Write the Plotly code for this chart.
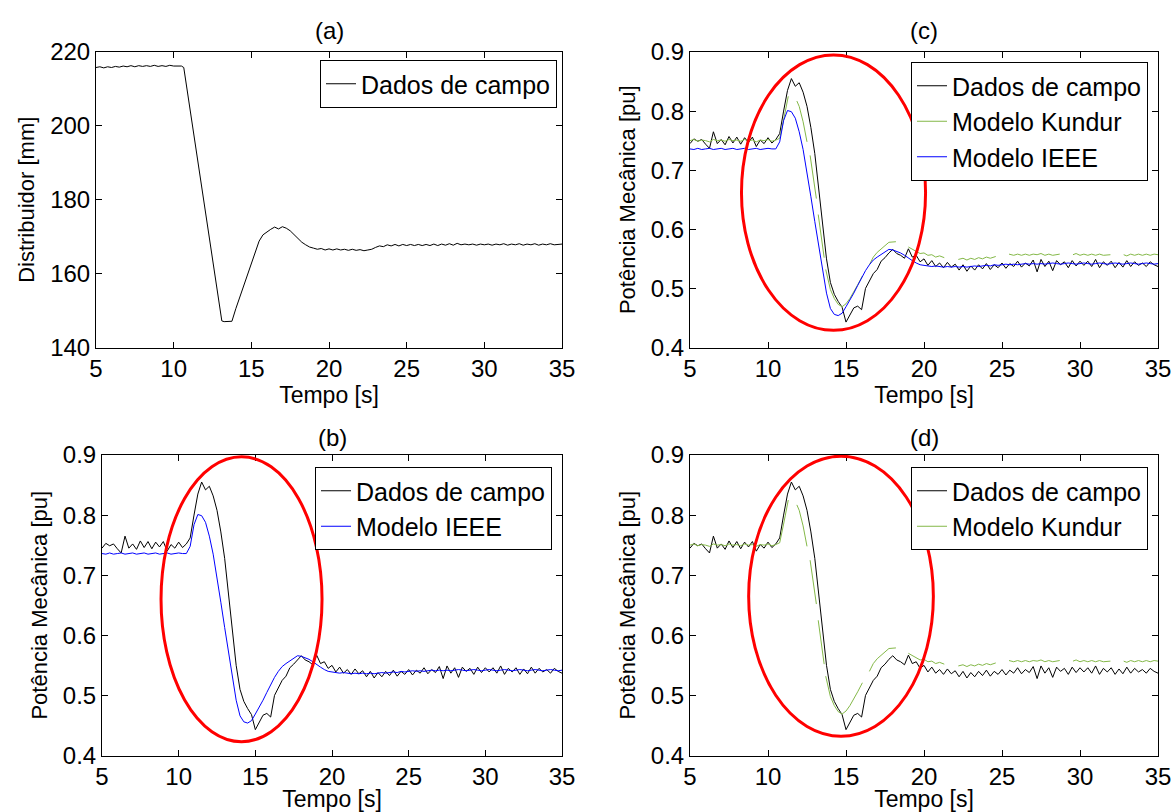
import plotly.graph_objects as go

W, H = 1173, 812

# ---------------- data ----------------
# (a) Distribuidor [mm]
DIST_T = [5.0, 5.25, 5.5, 5.75, 6.0, 6.25, 6.5, 6.75, 7.0, 7.25, 7.5, 7.75, 8.0, 8.25, 8.5, 8.75,
          9.0, 9.25, 9.5, 9.75, 10.0, 10.25, 10.5,
          10.65, 11.0, 11.5, 12.0, 12.5, 13.1,
          13.25, 13.5, 13.75, 14.0, 14.25, 14.5, 14.75, 15.0, 15.25, 15.5, 15.75, 16.0, 16.25, 16.5,
          16.75, 17.0, 17.25, 17.5, 17.75, 18.0, 18.25, 18.5, 18.75, 19.0, 19.25, 19.5, 19.75, 20.0,
          20.25, 20.5, 20.75, 21.0, 21.25, 21.5, 21.75, 22.0, 22.25, 22.5, 22.75, 23.0, 23.25, 23.5,
          23.75, 24.0, 24.25, 24.5, 24.75, 25.0, 25.25, 25.5, 25.75, 26.0, 26.25, 26.5, 26.75, 27.0,
          27.25, 27.5, 27.75, 28.0, 28.25, 28.5, 28.75, 29.0, 29.25, 29.5, 29.75, 30.0, 30.25, 30.5,
          30.75, 31.0, 31.25, 31.5, 31.75, 32.0, 32.25, 32.5, 32.75, 33.0, 33.25, 33.5, 33.75, 34.0,
          34.25, 34.5, 34.75, 35.0]
DIST_V = [215.8, 216.0, 215.7, 216.0, 215.8, 216.1, 215.9, 216.2, 216.0, 216.3, 216.0, 216.3, 216.1, 216.3, 216.1, 216.4,
          216.1, 216.3, 216.1, 216.4, 216.2, 216.3, 216.2,
          215.8, 206.1, 192.0, 177.9, 163.8, 147.2,
          147.0, 147.0, 147.1, 150.5, 153.5, 156.5, 159.5, 162.5, 165.7, 168.8, 170.5, 171.3, 172.0, 172.6,
          172.1, 172.7, 172.3, 171.6, 170.6, 169.5, 168.5, 167.8, 167.2, 166.9, 166.6, 166.8, 166.4, 166.7,
          166.4, 166.7, 166.4, 166.6, 166.3, 166.6, 166.3, 166.5, 166.2, 166.4, 166.6, 167.1, 167.5, 167.3,
          167.8, 167.5, 167.9, 167.5, 167.9, 167.6, 167.9, 167.6, 167.9, 167.6, 167.9, 167.6, 168.0, 167.6,
          168.0, 167.7, 168.1, 167.7, 168.2, 167.8, 168.0, 167.8, 168.0, 167.7, 168.0, 167.8, 168.0, 167.7,
          168.0, 167.8, 168.1, 167.7, 168.0, 167.8, 168.1, 167.7, 168.0, 167.8, 168.1, 167.7, 168.0, 167.8,
          168.1, 167.8, 168.0, 168.0]

# shared time base of field data and IEEE model
T = [5.0, 5.25, 5.5, 5.75, 6.0, 6.25, 6.5, 6.75, 7.0, 7.25, 7.5, 7.75, 8.0, 8.25, 8.5, 8.75,
     9.0, 9.25, 9.5, 9.75, 10.0, 10.25, 10.5, 10.75, 11.0, 11.25, 11.5, 11.75, 12.0, 12.25, 12.5,
     12.75, 13.0, 13.25, 13.5, 13.75, 14.0, 14.25, 14.5, 14.75, 15.0, 15.25, 15.5, 15.75, 16.0,
     16.25, 16.5, 16.75, 17.0, 17.25, 17.5, 17.75, 18.0, 18.25, 18.5, 18.75, 19.0, 19.25, 19.5,
     19.75, 20.0, 20.25, 20.5, 20.75, 21.0, 21.25, 21.5, 21.75, 22.0, 22.25, 22.5, 22.75, 23.0,
     23.25, 23.5, 23.75, 24.0, 24.25, 24.5, 24.75, 25.0, 25.25, 25.5, 25.75, 26.0, 26.25, 26.5,
     26.75, 27.0, 27.25, 27.5, 27.75, 28.0, 28.25, 28.5, 28.75, 29.0, 29.25, 29.5, 29.75, 30.0,
     30.25, 30.5, 30.75, 31.0, 31.25, 31.5, 31.75, 32.0, 32.25, 32.5, 32.75, 33.0, 33.25, 33.5,
     33.75, 34.0, 34.25, 34.5, 34.75, 35.0]

# Dados de campo (field data), mechanical power [pu]
FIELD = [0.745, 0.753, 0.749, 0.752, 0.744, 0.737, 0.765, 0.745, 0.752, 0.743, 0.757, 0.746, 0.756, 0.744, 0.755, 0.747,
         0.756, 0.740, 0.751, 0.745, 0.755, 0.746, 0.752, 0.762, 0.800, 0.835, 0.855, 0.842, 0.848, 0.832, 0.808,
         0.772, 0.728, 0.672, 0.606, 0.550, 0.510, 0.490, 0.478, 0.468, 0.443, 0.455, 0.467, 0.470, 0.464,
         0.500, 0.512, 0.525, 0.532, 0.546, 0.552, 0.560, 0.566, 0.559, 0.556, 0.551, 0.567, 0.553, 0.556,
         0.545, 0.550, 0.539, 0.547, 0.537, 0.543, 0.535, 0.544, 0.536, 0.541, 0.531, 0.540, 0.529, 0.538,
         0.531, 0.540, 0.533, 0.542, 0.532, 0.540, 0.535, 0.543, 0.534, 0.542, 0.537, 0.546, 0.536, 0.543,
         0.538, 0.548, 0.528, 0.549, 0.537, 0.546, 0.530, 0.547, 0.540, 0.545, 0.535, 0.547, 0.538, 0.546,
         0.539, 0.546, 0.537, 0.549, 0.535, 0.545, 0.539, 0.546, 0.535, 0.544, 0.536, 0.547, 0.537, 0.545,
         0.539, 0.543, 0.537, 0.545, 0.540, 0.537]

# Modelo IEEE
IEEE = [0.736, 0.735, 0.737, 0.735, 0.736, 0.737, 0.735, 0.736, 0.737, 0.735, 0.736, 0.737, 0.735, 0.736, 0.737, 0.735,
        0.736, 0.737, 0.735, 0.736, 0.737, 0.736, 0.736, 0.748, 0.784, 0.801, 0.799, 0.788, 0.765, 0.735, 0.698,
        0.655, 0.613, 0.570, 0.528, 0.492, 0.466, 0.456, 0.454, 0.458, 0.469, 0.480, 0.492, 0.505, 0.518,
        0.530, 0.540, 0.548, 0.553, 0.557, 0.562, 0.566, 0.565, 0.563, 0.560, 0.556, 0.551, 0.547, 0.543,
        0.540, 0.539, 0.538, 0.537, 0.538, 0.537, 0.536, 0.537, 0.536, 0.537, 0.536, 0.537, 0.536, 0.537,
        0.538, 0.537, 0.538, 0.539, 0.538, 0.540, 0.539, 0.540, 0.541, 0.540, 0.541, 0.540, 0.541, 0.542,
        0.541, 0.542, 0.541, 0.542, 0.541, 0.542, 0.543, 0.542, 0.541, 0.542, 0.543, 0.542, 0.541, 0.542,
        0.543, 0.542, 0.541, 0.542, 0.543, 0.542, 0.541, 0.542, 0.543, 0.542, 0.541, 0.542, 0.543, 0.542,
        0.541, 0.542, 0.543, 0.542, 0.541, 0.542]

# Modelo Kundur (line is broken in the original; None marks a break)
KUNDUR_T = [5.0, 5.25, 5.5, 5.75, 6.0, 6.25, 6.5, 6.75, 7.0, 7.25, 7.5, 7.75, 8.0, 8.25, 8.5, 8.75,
            9.0, 9.25, 9.5, 9.75, 10.0, 10.25, 10.5, 10.75, 11.0, 11.3, None,
            11.85, 12.0, 12.25, 12.5, None,
            12.7, 12.9, 13.1, None,
            13.22, 13.4, 13.6, None,
            13.7, 13.85, 14.0, 14.25, 14.5, 14.75, 15.0, 15.25, 15.5, 15.75, 16.05, None,
            16.5, 16.75, 17.0, 17.25, 17.5, 17.75, 18.2, None,
            19.0, 19.25, 19.5, 19.75, 20.0, 20.25, 20.5, 20.75, 21.0, 21.3, None,
            22.2, 22.5, 22.75, 23.0, 23.25, 23.5, 23.75, 24.0, 24.25, 24.6, None,
            25.45, 25.75, 26.0, 26.25, 26.5, 26.75, 27.0, 27.25, 27.5, 27.75, 28.0, 28.25, 28.7, None,
            29.55, 29.75, 30.0, 30.25, 30.5, 30.75, 31.0, 31.25, 31.5, 31.95, None,
            32.8, 33.0, 33.25, 33.5, 33.75, 34.0, 34.25, 34.5, 34.75, 35.0]
KUNDUR_V = [0.750, 0.752, 0.749, 0.751, 0.750, 0.748, 0.752, 0.750, 0.751, 0.749, 0.752, 0.750, 0.751, 0.749, 0.752, 0.750,
            0.751, 0.748, 0.751, 0.750, 0.752, 0.749, 0.751, 0.754, 0.785, 0.825, None,
            0.817, 0.808, 0.782, 0.748, None,
            0.725, 0.690, 0.652, None,
            0.625, 0.590, 0.552, None,
            0.532, 0.512, 0.498, 0.483, 0.473, 0.469, 0.474, 0.483, 0.494, 0.506, 0.521, None,
            0.540, 0.553, 0.561, 0.567, 0.573, 0.578, 0.579, None,
            0.570, 0.566, 0.562, 0.559, 0.560, 0.556, 0.557, 0.553, 0.555, 0.552, None,
            0.549, 0.551, 0.548, 0.551, 0.549, 0.552, 0.550, 0.553, 0.551, 0.554, None,
            0.558, 0.556, 0.558, 0.556, 0.558, 0.556, 0.558, 0.557, 0.559, 0.556, 0.558, 0.556, 0.558, None,
            0.557, 0.559, 0.556, 0.558, 0.556, 0.558, 0.556, 0.558, 0.556, 0.557, None,
            0.557, 0.555, 0.558, 0.556, 0.558, 0.556, 0.558, 0.556, 0.558, 0.557]

X_TICKS = [5, 10, 15, 20, 25, 30, 35]
Y_TICKS_A = [140, 160, 180, 200, 220]
Y_TICKS_P = [0.4, 0.5, 0.6, 0.7, 0.8, 0.9]
Y_TICK_TEXT_P = ["0.4", "0.5", "0.6", "0.7", "0.8", "0.9"]

assert len(DIST_T) == len(DIST_V)
assert len(T) == len(FIELD) == len(IEEE)
assert len(KUNDUR_T) == len(KUNDUR_V)

# ---------------- styles ----------------
FONT = "Liberation Sans, Arial, Helvetica, sans-serif"
BLACK = "#000000"
GREEN = "#84b848"
BLUE = "#0000ff"
RED = "#ff0000"
LW = 1

TICK_SIZE = 24
TITLE_SIZE = 23
LEGEND_SIZE = 25
PANEL_SIZE = 24

def px(xp):
    return xp / W

def py(yp):
    return 1 - yp / H

fig = go.Figure()

def line(x, y, color, name, xa, ya, leg):
    fig.add_trace(go.Scatter(x=x, y=y, mode="lines", name=name,
                             line=dict(color=color, width=LW),
                             xaxis=xa, yaxis=ya, legend=leg, hoverinfo="skip"))

# (a)
line(DIST_T, DIST_V, BLACK, "Dados de campo", "x", "y", "legend")
# (c)
line(T, FIELD, BLACK, "Dados de campo", "x2", "y2", "legend2")
line(KUNDUR_T, KUNDUR_V, GREEN, "Modelo Kundur", "x2", "y2", "legend2")
line(T, IEEE, BLUE, "Modelo IEEE", "x2", "y2", "legend2")
# (b)
line(T, FIELD, BLACK, "Dados de campo", "x3", "y3", "legend3")
line(T, IEEE, BLUE, "Modelo IEEE", "x3", "y3", "legend3")
# (d)
line(T, FIELD, BLACK, "Dados de campo", "x4", "y4", "legend4")
line(KUNDUR_T, KUNDUR_V, GREEN, "Modelo Kundur", "x4", "y4", "legend4")

axis_common = dict(showline=True, linecolor=BLACK, linewidth=1, mirror="ticks",
                   ticks="inside", ticklen=6, tickcolor=BLACK, tickwidth=1,
                   showgrid=False, zeroline=False, automargin=False,
                   tickfont=dict(family=FONT, size=TICK_SIZE, color=BLACK))

def xaxis(domain, anchor):
    return dict(axis_common, domain=domain, anchor=anchor, range=[5, 35],
                tickvals=X_TICKS, ticktext=[str(v) for v in X_TICKS],
                title=dict(text="Tempo [s]", font=dict(family=FONT, size=TITLE_SIZE, color=BLACK), standoff=5))

def yaxis_p(domain, anchor):
    return dict(axis_common, domain=domain, anchor=anchor, range=[0.4, 0.9],
                tickvals=Y_TICKS_P, ticktext=Y_TICK_TEXT_P,
                title=dict(text="Potência Mecânica [pu]", font=dict(family=FONT, size=TITLE_SIZE - 1, color=BLACK), standoff=9))

dom_a_x = [px(96), px(562)]
dom_c_x = [px(690), px(1158)]
dom_b_x = [px(102), px(562)]
dom_d_x = [px(690), px(1158)]
dom_top_y = [py(347.5), py(52)]
dom_bot_y = [py(755.5), py(455)]

legend_common = dict(bordercolor=BLACK, borderwidth=1, bgcolor="white",
                     font=dict(family=FONT, size=LEGEND_SIZE, color=BLACK),
                     xanchor="right", yanchor="top", traceorder="normal",
                     tracegroupgap=0, itemwidth=30)

fig.update_layout(
    width=W, height=H,
    margin=dict(l=0, r=0, t=0, b=0, autoexpand=False),
    paper_bgcolor="white", plot_bgcolor="white",
    font=dict(family=FONT, color=BLACK),
    showlegend=True,
    xaxis=xaxis(dom_a_x, "y"),
    yaxis=dict(axis_common, domain=dom_top_y, anchor="x", range=[140, 220],
               tickvals=Y_TICKS_A, ticktext=[str(v) for v in Y_TICKS_A],
               title=dict(text="Distribuidor [mm]", font=dict(family=FONT, size=TITLE_SIZE - 1, color=BLACK), standoff=9)),
    xaxis2=xaxis(dom_c_x, "y2"),
    yaxis2=yaxis_p(dom_top_y, "x2"),
    xaxis3=xaxis(dom_b_x, "y3"),
    yaxis3=yaxis_p(dom_bot_y, "x3"),
    xaxis4=xaxis(dom_d_x, "y4"),
    yaxis4=yaxis_p(dom_bot_y, "x4"),
    legend=dict(legend_common, x=px(557), y=py(60)),
    legend2=dict(legend_common, x=px(1148), y=py(62)),
    legend3=dict(legend_common, x=px(552), y=py(467)),
    legend4=dict(legend_common, x=px(1148), y=py(467)),
)

# red ellipses highlighting the transient
ellipses = [("x2", "y2", 8.3, 20.1, 0.429, 0.895),
            ("x3", "y3", 8.85, 19.35, 0.423, 0.897),
            ("x4", "y4", 8.76, 20.6, 0.432, 0.898)]
for xr, yr, x0, x1, y0, y1 in ellipses:
    fig.add_shape(type="circle", xref=xr, yref=yr, x0=x0, x1=x1, y0=y0, y1=y1,
                  line=dict(color=RED, width=3), layer="above")

# panel titles
for text, xc, yc in [("(a)", (96 + 562) / 2, 30), ("(c)", (690 + 1158) / 2, 30),
                     ("(b)", (102 + 562) / 2, 437), ("(d)", (690 + 1158) / 2, 437)]:
    fig.add_annotation(text=text, x=px(xc), y=py(yc), xref="paper", yref="paper",
                       showarrow=False, xanchor="center", yanchor="middle",
                       font=dict(family=FONT, size=PANEL_SIZE, color=BLACK))

fig.write_html("out.html", config={"displayModeBar": False},
               post_script="document.body.style.margin='0px';document.body.style.overflow='hidden';")
